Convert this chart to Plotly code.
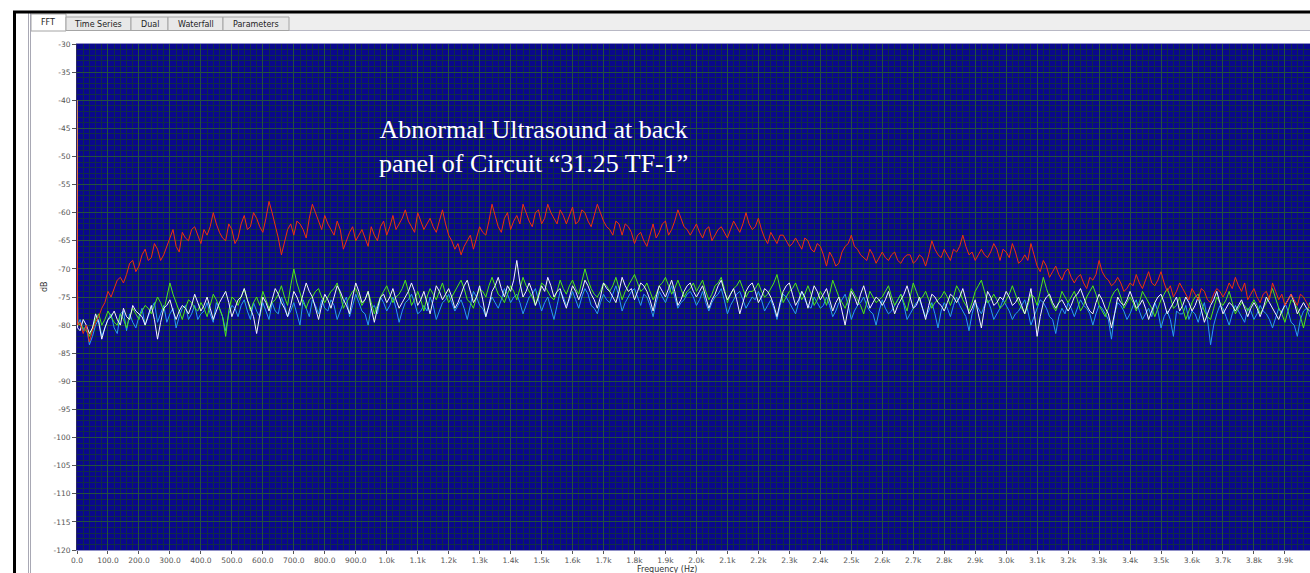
import plotly.graph_objects as go

# ---------------- data ----------------
# frequency bins (Hz): DC point, then 10 Hz spacing
FREQ_HZ = [0, 2] + list(range(10, 3990, 10))

RED_DB = [-40, -80,
    -79.5, -81.5, -80, -83, -81, -79.5, -78.5, -77, -76, -74, -75, -73.5, -72, -71.5, -72.5, -71, -69, -68.5, -70.5, -69.5,
    -67.5, -66.5, -68.5, -68, -65.5, -66.5, -68.5, -67.5, -66, -64.5, -63, -66, -67, -63.5, -64.5, -65, -63, -62.5, -64, -65.5,
    -63, -64, -62.5, -60, -62, -63.5, -64.5, -65, -62, -63, -65.5, -64.5, -62, -60.5, -63, -62.5, -60, -61, -62.5, -63.5,
    -61, -58, -60, -62, -64.5, -67.5, -65, -63, -62, -64, -61.5, -62, -63, -64.5, -61, -58.5, -60, -61.5, -63, -60.5,
    -62, -63, -64, -61.5, -63, -66.5, -65, -63.5, -62.5, -65, -64, -63, -64.5, -66, -62.5, -64, -65, -62.5, -61.5, -64,
    -62.5, -60.5, -63, -62, -61, -59.5, -61.5, -62.5, -63.5, -60, -61.5, -63, -62, -61, -62.5, -63.5, -61.5, -59.5, -62, -64,
    -65, -66.5, -65.5, -67.5, -66, -65, -64, -66.5, -64.5, -62.5, -63.5, -64, -61.5, -58.5, -60.5, -62.5, -63.5, -61, -60, -63,
    -61.5, -60.5, -62, -58.5, -60, -61.5, -62.5, -60, -59.5, -62, -61, -58.5, -60, -61, -62, -59.5, -60.5, -62, -60.5, -59,
    -62, -61.5, -59.5, -60, -61.5, -62.5, -60.5, -58.5, -60, -61.5, -62.5, -63, -64, -61.5, -62, -64, -62, -62.5, -63.5, -65.5,
    -64, -63.5, -65, -66, -64, -62, -64.5, -63.5, -62, -61.5, -64, -63, -61.5, -59.5, -61, -62.5, -63, -64, -63, -62,
    -63.5, -64.5, -63, -62.5, -65, -64, -63, -62.5, -63.5, -64.5, -63, -61.5, -62.5, -63.5, -62, -60, -62, -63, -62.5, -61,
    -63, -64.5, -65.5, -63.5, -64.5, -65.5, -64, -64, -65, -66, -65.5, -64.5, -65.5, -66.5, -64.5, -65, -66.5, -67, -65.5, -66,
    -67.5, -69.5, -67, -68, -69.5, -69, -67, -66, -65.5, -64, -66, -66.5, -67.5, -68, -68.5, -66.5, -67.5, -69, -68, -67,
    -68, -68.5, -67.5, -67, -68.5, -69, -68, -67.5, -67.5, -69, -68.5, -67.5, -68, -69.5, -67.5, -65, -66.5, -67.5, -68, -66.5,
    -67.5, -68.5, -66.5, -67, -66, -64, -66, -67.5, -67, -68.5, -67.5, -66.5, -67.5, -68, -67, -65.5, -66.5, -68.5, -66.5, -67,
    -68, -65.5, -67, -69, -68.5, -67.5, -68.5, -65.5, -67.5, -69.5, -70.5, -68.5, -69.5, -71.5, -70.5, -69.5, -71, -72, -70.5, -70,
    -71.5, -72.5, -71.5, -71, -72.5, -73.5, -71.5, -72, -71, -68.5, -70.5, -71.5, -72, -73, -72.5, -71.5, -72.5, -74, -73.5, -72.5,
    -73, -71, -72.5, -73.5, -72, -70.5, -72.5, -73, -72, -70.5, -72.5, -74, -73, -75, -74, -72.5, -73.5, -74.5, -75.5, -73.5,
    -74.5, -75.5, -73.5, -74, -75.5, -76, -74.5, -73.5, -74, -75, -74, -72.5, -73.5, -71.5, -73, -74, -72.5, -75.5, -74.5, -73.5,
    -75, -76, -74.5, -74, -75.5, -72.5, -74, -75.5, -74.5, -76.5, -75.5, -74.5, -75.5, -76.5, -74.5, -75, -76, -77]

BLUE_DB = [-40, -80,
    -79, -81, -80, -83.5, -82, -80, -79, -82, -80.5, -79, -78, -80.5, -81.5, -78, -77.5, -81, -78, -79.5, -80.5, -78.5,
    -77, -80, -78.5, -77, -76, -79.5, -78, -76.5, -79.5, -78, -77, -80.5, -78.5, -77, -76.5, -79, -78, -76.5, -79, -78,
    -77.5, -76, -78, -79.5, -76, -77, -78.5, -81, -78, -76.5, -77, -78.5, -76.5, -75.5, -77.5, -79, -76, -77.5, -78.5, -76,
    -77.5, -79, -76, -77.5, -78, -75, -76.5, -78.5, -77.5, -76, -78, -80, -75.5, -77, -78.5, -75.5, -76.5, -78, -75.5, -77,
    -77.5, -75.5, -76.5, -79, -77.5, -76, -75, -78.5, -76.5, -74.5, -76, -77.5, -78, -80, -77, -76.5, -78, -75, -76, -77.5,
    -76.5, -75, -77, -79.5, -77.5, -76, -75.5, -74.5, -76, -78, -77.5, -76.5, -77.5, -75, -76.5, -79, -77.5, -76, -75.5, -74.5,
    -76, -77.5, -76.5, -75.5, -77, -79, -76.5, -74, -75, -76.5, -77, -78.5, -76.5, -75, -76, -77, -75.5, -73.5, -74.5, -76,
    -75, -74.5, -76, -78, -76.5, -75, -74.5, -73.5, -75.5, -77.5, -76, -75, -77, -79, -76.5, -74, -75, -76.5, -75.5, -74,
    -75.5, -77, -75, -73.5, -74.5, -76.5, -77, -78, -76, -74.5, -75.5, -76, -74.5, -73, -75, -77.5, -76, -75, -74, -73.5,
    -75, -76.5, -74.5, -75, -76.5, -78.5, -76, -74, -75, -76, -74.5, -73, -75, -77, -76, -75.5, -74.5, -74, -75, -76.5,
    -75.5, -74, -76, -77.5, -76, -75, -74.5, -73.5, -75.5, -78, -76.5, -75.5, -74.5, -74, -75.5, -77, -76, -75, -75.5, -74,
    -75.5, -77.5, -76.5, -75.5, -77, -79, -76.5, -74.5, -75, -76, -77, -78, -76, -74, -75.5, -76.5, -77, -75, -76, -77,
    -76.5, -75, -76.5, -78.5, -77.5, -76, -75.5, -74.5, -76.5, -79, -77.5, -76.5, -76, -75, -76.5, -77.5, -78, -80, -77.5, -75.5,
    -77, -78, -77.5, -76.5, -75.5, -74.5, -76.5, -79, -78, -77, -76, -75.5, -77, -78.5, -77.5, -76, -78, -80.5, -77.5, -76,
    -77, -78.5, -76.5, -75, -76.5, -77.5, -78.5, -81, -78, -76, -77, -78, -76.5, -75.5, -77, -79, -78, -77, -75.5, -76.5,
    -77.5, -79, -78, -77.5, -76.5, -75.5, -77.5, -80, -78.5, -77, -75.5, -76, -77, -78.5, -79, -81.5, -78.5, -77, -78, -76,
    -77, -78.5, -77, -75.5, -76.5, -77, -78, -80, -78, -76.5, -77, -78, -79, -82.5, -78, -76, -76.5, -77.5, -79, -78,
    -76.5, -75.5, -77.5, -79, -78, -77, -78.5, -76, -77.5, -80.5, -78.5, -77.5, -79, -82, -77.5, -78, -78, -76.5, -79, -77.5,
    -78, -79.5, -77.5, -76, -79, -83.5, -80, -78, -76.5, -77, -78.5, -80, -78, -76.5, -77.5, -78.5, -79.5, -77, -77.5, -79,
    -78, -76.5, -77.5, -78, -79, -80.5, -78.5, -77, -78, -76, -77.5, -79.5, -80, -82, -79, -77.5, -77, -78.5]

GREEN_DB = [-40, -79.5,
    -80, -80.5, -81, -82, -80.5, -79, -78, -80, -79, -77.5, -78.5, -79.5, -80, -78, -79, -80.5, -78.5, -77, -78, -79,
    -77.5, -76.5, -77, -78, -76.5, -75, -76, -77.5, -75, -72.5, -74.5, -76, -77.5, -79, -77, -75.5, -76, -77, -77.5, -76,
    -77, -78.5, -76.5, -74.5, -75.5, -77, -78.5, -82, -77.5, -75, -75.5, -76.5, -75, -73.5, -75.5, -77.5, -76, -75, -76.5, -74,
    -75.5, -77, -76, -75.5, -74.5, -73, -75, -76.5, -73, -70, -72.5, -74.5, -76, -77, -75.5, -75, -74, -73.5, -75, -76,
    -75, -74, -73.5, -72.5, -74.5, -77, -76, -75, -74, -73.5, -75, -76.5, -75.5, -74, -76, -78, -76.5, -75, -74, -73,
    -74.5, -76, -75, -74.5, -73.5, -72, -74, -76.5, -75.5, -74, -75.5, -77.5, -75, -73.5, -74.5, -75.5, -74, -72.5, -74.5, -76,
    -75, -74, -73, -72, -73.5, -75.5, -76, -77, -75, -73.5, -74, -75, -73, -71.5, -73, -74.5, -75, -76, -74.5, -73,
    -74, -75.5, -73.5, -71.5, -73, -74, -75, -76.5, -74.5, -72.5, -73, -74, -75, -75.5, -74, -72, -73.5, -74.5, -73, -72,
    -73.5, -74.5, -72, -70, -72, -73.5, -74.5, -75, -74, -72.5, -73, -74, -73, -71.5, -73.5, -75.5, -74, -73, -72, -71,
    -72.5, -74, -73.5, -72.5, -74, -75.5, -74.5, -73, -72.5, -71.5, -73, -74.5, -73.5, -72, -73.5, -75, -74, -73.5, -72.5, -74,
    -73, -72, -74, -75.5, -74.5, -73, -72.5, -71.5, -73.5, -76, -74.5, -73.5, -73, -72, -73.5, -75, -74, -74, -73.5, -72.5,
    -74, -75, -74.5, -73.5, -72.5, -71, -73.5, -76, -75, -74, -73.5, -72.5, -74, -75.5, -74.5, -73, -74.5, -76.5, -75.5, -74,
    -75, -76.5, -74.5, -72, -73.5, -75, -76, -77, -75.5, -73.5, -74.5, -75.5, -76.5, -78, -76, -74, -75, -76, -75.5, -75,
    -74, -73, -75, -76.5, -75.5, -74.5, -76, -77.5, -75, -72.5, -74, -75.5, -75, -74, -75.5, -77, -76, -75.5, -75, -74,
    -75, -76.5, -75, -73, -74, -75.5, -76.5, -77.5, -76, -74, -73, -72, -74, -76, -75.5, -74.5, -75.5, -77, -76.5, -75.5,
    -74.5, -73, -74.5, -76, -77, -78, -76.5, -74.5, -75, -76.5, -74, -71.5, -73.5, -75, -76.5, -77.5, -76, -74, -75, -76,
    -75, -74, -75.5, -77.5, -76.5, -75, -74, -73, -74.5, -76.5, -77.5, -78.5, -77, -75, -74, -73.5, -75, -77, -76, -75,
    -76, -77.5, -76, -74, -75, -76, -77, -78.5, -77, -75.5, -74.5, -73.5, -75, -77, -76.5, -75, -77, -79, -77.5, -76,
    -75, -74.5, -76, -77.5, -78.5, -79, -77, -75, -76, -76.5, -75.5, -74, -76, -78, -77, -76, -76.5, -77.5, -76.5, -75.5,
    -76.5, -78, -77, -76, -75, -73.5, -75.5, -77, -78, -79.5, -77.5, -75.5, -76, -77, -78.5, -80.5, -78, -76]

WHITE_DB = [-40, -80.5,
    -81, -79, -80, -81.5, -80.5, -78, -79.5, -82.5, -80.5, -79, -78.5, -77.5, -79, -80, -77, -78.5, -79, -76.5, -77.5, -78,
    -78.5, -80, -78, -76.5, -79, -82.5, -79.5, -77, -76.5, -75.5, -77.5, -79, -77.5, -76.5, -77, -78, -76.5, -74.5, -76, -77.5,
    -76.5, -75, -77, -79, -77.5, -76, -75, -74, -76, -78.5, -77, -75.5, -75, -73.5, -75.5, -77, -78.5, -81.5, -78, -75,
    -76, -77.5, -75.5, -73.5, -74.5, -76, -77, -78.5, -76.5, -74, -75, -76.5, -74.5, -72.5, -74, -75, -77, -79, -76.5, -74.5,
    -75.5, -77, -75, -73, -74, -75.5, -76.5, -78, -75, -72.5, -74, -76, -75.5, -74, -77, -79.5, -77, -75, -74.5, -76,
    -75, -73.5, -75.5, -77, -76, -75, -74, -72.5, -74, -76.5, -75.5, -74, -76, -78, -75.5, -73, -74, -75.5, -74.5, -73.5,
    -75, -77, -76, -74.5, -73, -72, -74, -76, -75, -73, -75.5, -78.5, -76.5, -74, -73, -71.5, -73.5, -75, -73, -74,
    -72, -68.5, -72.5, -75, -74, -72.5, -74, -76.5, -75, -73, -74, -71.5, -73, -75, -74, -73.5, -75.5, -77, -75, -73,
    -74, -75.5, -74, -72, -73, -74.5, -75.5, -77, -75, -72.5, -73.5, -74, -75, -76, -74, -71.5, -73, -74, -73.5, -75.5,
    -74, -72.5, -73, -74, -75.5, -77.5, -75, -73, -74, -75, -73.5, -72, -74, -76.5, -75.5, -74, -73, -72.5, -74, -75,
    -74, -73, -75, -77, -75.5, -74.5, -73, -72, -74, -75.5, -74.5, -73.5, -75.5, -78, -76, -74, -73, -72.5, -74, -76,
    -75, -73.5, -74, -75, -76.5, -78.5, -76, -74, -73, -72.5, -74.5, -76.5, -75.5, -74, -75, -77, -75, -73, -74, -75.5,
    -74.5, -73.5, -75.5, -77.5, -76, -75, -77.5, -80, -77, -74, -75, -76.5, -74.5, -73, -75, -77, -76, -75, -75.5, -76.5,
    -75.5, -74, -76, -78, -76.5, -75.5, -74.5, -73, -75, -77, -76.5, -75, -77, -79, -76.5, -74.5, -75, -76, -76.5, -77.5,
    -76, -74.5, -75, -76, -75, -73.5, -75.5, -78, -77, -75.5, -78, -80.5, -77, -74, -75, -76.5, -76, -75, -75.5, -74,
    -75, -76.5, -76, -75, -76.5, -78, -76, -73.5, -77.5, -82, -78.5, -76, -75, -74.5, -76, -77, -76, -75.5, -76.5, -77.5,
    -76.5, -75, -74.5, -73.5, -75, -76.5, -77.5, -78, -76, -74.5, -75.5, -77, -78, -80.5, -78, -75, -76, -76.5, -75.5, -74,
    -75.5, -77, -76.5, -75.5, -77, -79, -77.5, -76, -75, -74.5, -76, -78, -77, -76, -75, -77.5, -76.5, -75, -76, -77.5,
    -76.5, -75, -77, -79.5, -78, -76.5, -75.5, -74, -76, -78, -77, -76, -76.5, -77.5, -76.5, -75.5, -77, -78.5, -77, -76,
    -77, -78.5, -77, -75, -76, -77, -78, -79, -77.5, -76.5, -75.5, -74.5, -76, -78, -77, -76, -77, -77.5]

X_TICK_VALS = list(range(0, 4000, 100))
X_TICK_TEXT = ["0.0", "100.0", "200.0", "300.0", "400.0", "500.0", "600.0", "700.0", "800.0", "900.0",
               "1.0k", "1.1k", "1.2k", "1.3k", "1.4k", "1.5k", "1.6k", "1.7k", "1.8k", "1.9k",
               "2.0k", "2.1k", "2.2k", "2.3k", "2.4k", "2.5k", "2.6k", "2.7k", "2.8k", "2.9k",
               "3.0k", "3.1k", "3.2k", "3.3k", "3.4k", "3.5k", "3.6k", "3.7k", "3.8k", "3.9k"]
Y_TICK_VALS = [-30, -35, -40, -45, -50, -55, -60, -65, -70, -75, -80, -85, -90, -95, -100, -105, -110, -115, -120]
Y_TICK_TEXT = ["-30", "-35", "-40", "-45", "-50", "-55", "-60", "-65", "-70", "-75", "-80", "-85", "-90",
               "-95", "-100", "-105", "-110", "-115", "-120"]

TABS = ["FFT", "Time Series", "Dual", "Waterfall", "Parameters"]
TITLE_TEXT = "Abnormal Ultrasound at back<br>panel of Circuit \u201c31.25 TF-1\u201d"

# ---------------- layout geometry (pixels) ----------------
W, H = 1310, 573
L, R, T, B = 77, 0, 44, 23
PW, PH = W - L - R, H - T - B


def px(x):
    return (x - L) / PW


def py(y):
    return (H - B - y) / PH


fig = go.Figure()
series = [(BLUE_DB, "#2b9cf0"), (GREEN_DB, "#4ee81a"), (WHITE_DB, "#f4f4ff"), (RED_DB, "#f0300f")]
for vals, col in series:
    fig.add_trace(go.Scatter(x=FREQ_HZ, y=vals, mode="lines",
                             line=dict(color=col, width=1), hoverinfo="skip"))

shapes = []
shapes.append(dict(type="rect", xref="paper", yref="paper", x0=px(30), x1=px(W), y0=py(30.5), y1=py(13),
                   fillcolor="#eeeeee", line=dict(width=0)))
shapes.append(dict(type="line", xref="paper", yref="paper", x0=px(30), x1=px(W), y0=py(30.5), y1=py(30.5),
                   line=dict(color="#b8b8c4", width=1)))
tab_x = [(31, 66), (66, 131), (131, 168), (168, 223), (223, 289)]
for i, (a, b) in enumerate(tab_x):
    top = 14 if i == 0 else 17
    shapes.append(dict(type="rect", xref="paper", yref="paper", x0=px(a), x1=px(b), y0=py(31 if i == 0 else 30.5), y1=py(top),
                       fillcolor="#ffffff" if i == 0 else "#e8e8e8", line=dict(color="#a4a4a4", width=1)))
for xx in (28.5, 30.5):
    shapes.append(dict(type="line", xref="paper", yref="paper", x0=px(xx), x1=px(xx), y0=py(H), y1=py(13),
                       line=dict(color="#a8a8b4", width=1)))
shapes.append(dict(type="line", xref="paper", yref="paper", x0=px(14.5), x1=px(14.5), y0=py(H), y1=py(11),
                   line=dict(color="#000000", width=3)))
shapes.append(dict(type="line", xref="paper", yref="paper", x0=px(13), x1=px(W), y0=py(12), y1=py(12),
                   line=dict(color="#000000", width=3)))

annotations = []
centers = [48, 98, 150, 196, 256]
for name, cx in zip(TABS, centers):
    annotations.append(dict(text=name, x=px(cx), y=py(22.5 if name == "FFT" else 24), xref="paper", yref="paper",
                            showarrow=False, xanchor="center", yanchor="middle",
                            font=dict(family="DejaVu Sans", size=8, color="#222222")))
annotations.append(dict(text=TITLE_TEXT, x=px(533), y=py(146.5), xref="paper", yref="paper", showarrow=False,
                        xanchor="center", yanchor="middle", align="center",
                        font=dict(family="Liberation Serif", size=26, color="#ffffff")))
annotations.append(dict(text="Frequency (Hz)", x=px(667), y=py(569), xref="paper", yref="paper", showarrow=False,
                        xanchor="center", yanchor="middle", font=dict(family="DejaVu Sans", size=8, color="#333333")))
annotations.append(dict(text="dB", x=px(44), y=py(287), xref="paper", yref="paper", showarrow=False, textangle=-90,
                        xanchor="center", yanchor="middle", font=dict(family="DejaVu Sans", size=8, color="#333333")))

fig.update_layout(
    width=W, height=H,
    margin=dict(l=L, r=R, t=T, b=B, pad=0),
    paper_bgcolor="#ffffff",
    plot_bgcolor="#0a088c",
    showlegend=False,
    shapes=shapes,
    annotations=annotations,
)
fig.update_xaxes(
    range=[0, 3981], tickmode="array", tickvals=X_TICK_VALS, ticktext=X_TICK_TEXT,
    ticks="outside", ticklen=3, tickcolor="#555555", tickwidth=1,
    tickfont=dict(family="DejaVu Sans", size=7.5, color="#555555"),
    showgrid=True, gridcolor="#24503e", gridwidth=1,
    minor=dict(dtick=20, showgrid=True, gridcolor="#102c48", gridwidth=1, ticks=""),
    zeroline=True, zerolinecolor="#b4b4e8", zerolinewidth=2,
    showline=True, linecolor="#9090c8", linewidth=1, mirror=True,
)
fig.update_yaxes(
    range=[-120, -30], tickmode="array", tickvals=Y_TICK_VALS, ticktext=Y_TICK_TEXT,
    ticks="outside", ticklen=4, tickcolor="#555555", tickwidth=1,
    tickfont=dict(family="DejaVu Sans", size=7.5, color="#555555"),
    showgrid=True, gridcolor="#24503e", gridwidth=1,
    minor=dict(dtick=1, showgrid=True, gridcolor="#102c48", gridwidth=1, ticks=""),
    zeroline=False,
    showline=True, linecolor="#2a2a60", linewidth=1, mirror=True,
)

fig.write_html("out.html", config={"displayModeBar": False},
               post_script="document.body.style.margin='0';document.body.style.padding='0';"
                           "document.documentElement.style.overflow='hidden';")
